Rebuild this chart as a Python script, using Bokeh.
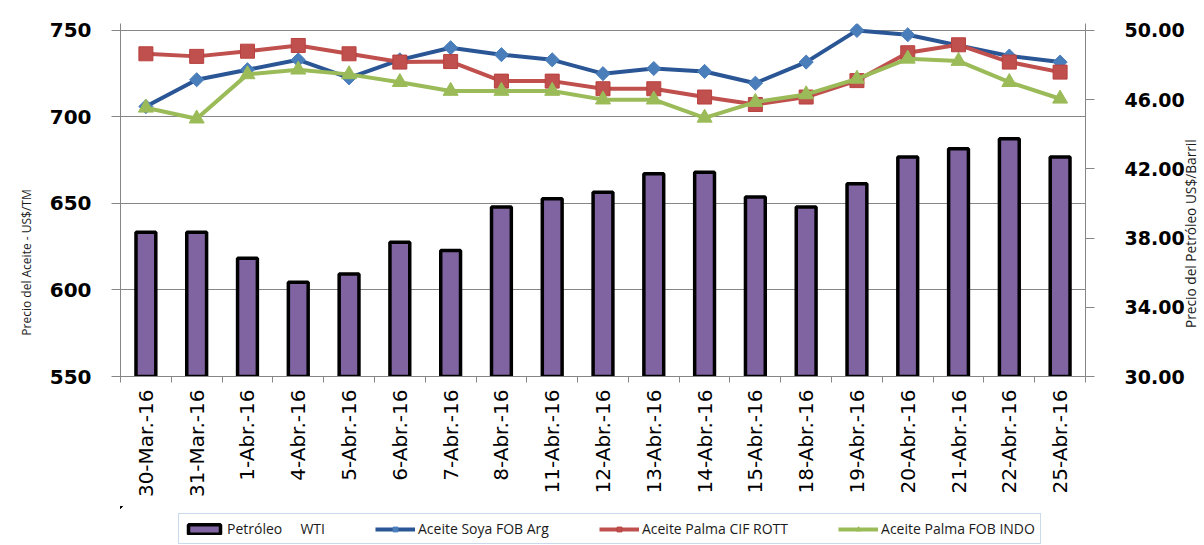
from math import pi
from bokeh.plotting import figure
from bokeh.layouts import column
from bokeh.models import (Range1d, LinearAxis, FixedTicker, Legend, LegendItem,
                          NumeralTickFormatter)
from bokeh.embed import file_html
from bokeh.resources import INLINE

# ---- data ----
dates = ["30-Mar.-16", "31-Mar.-16", "1-Abr.-16", "4-Abr.-16", "5-Abr.-16",
         "6-Abr.-16", "7-Abr.-16", "8-Abr.-16", "11-Abr.-16", "12-Abr.-16",
         "13-Abr.-16", "14-Abr.-16", "15-Abr.-16", "18-Abr.-16", "19-Abr.-16",
         "20-Abr.-16", "21-Abr.-16", "22-Abr.-16", "25-Abr.-16"]
wti = [38.34, 38.34, 36.84, 35.45, 35.93, 37.76, 37.28, 39.79, 40.27, 40.65,
       41.72, 41.81, 40.37, 39.79, 41.14, 42.68, 43.16, 43.74, 42.68]
soya = [706, 721.5, 727.3, 733, 722.6, 733, 740, 736, 733, 725,
        728, 726.3, 719.5, 731.7, 750, 747.5, 741.3, 735.2, 731.7]
palma_cif = [736.5, 735, 738, 741.3, 736.5, 731.7, 732, 720.7, 720.7, 716.3,
             716.3, 711.5, 707.2, 711.5, 721, 737.1, 741.7, 731.7, 725.9]
palma_indo = [705.3, 699, 724.6, 727.3, 724.6, 720.1, 715, 715, 715, 710,
              710, 699.5, 708.6, 713, 722, 733.6, 732.3, 720.1, 710.5]
left_ticks = [550, 600, 650, 700, 750]
right_ticks = [30, 34, 38, 42, 46, 50]
left_title = "Precio del Aceite  - US$/TM"
right_title = "Precio del Petróleo US$/Barril"
legend_labels = ["Petróleo     WTI", "Aceite Soya FOB Arg",
                 "Aceite Palma CIF ROTT", "Aceite Palma FOB INDO"]

xs = list(range(len(dates)))

# styles
BAR = dict(fill_color="#8064A2", line_color="black", line_width=3.5)
SOYA_L = dict(line_color="#2B5696", line_width=4)
SOYA_M = dict(marker="square", angle=pi / 4, size=10,
              fill_color="#4A7EBB", line_color="#4A7EBB")
CIF_L = dict(line_color="#C0504D", line_width=4)
CIF_M = dict(marker="square", size=14, fill_color="#C0504D", line_color="#B8403E")
INDO_L = dict(line_color="#9BBB59", line_width=4)
INDO_M = dict(marker="triangle", size=15, fill_color="#9BBB59", line_color="#9BBB59")

p = figure(frame_width=965, height=506,
           x_range=Range1d(-0.5, len(dates) - 0.5),
           y_range=Range1d(550, 754),
           output_backend="svg", toolbar_location=None,
           min_border_left=120, min_border_right=119,
           min_border_top=23, min_border_bottom=130)
p.extra_y_ranges = {"oil": Range1d(30, 50.4)}
p.outline_line_color = None
p.background_fill_color = "white"
p.border_fill_color = "white"

axis_col = "#868686"

# bars (right axis)
p.vbar(x=xs, top=wti, bottom=30, width=0.39, y_range_name="oil", **BAR)

# lines (left axis)
p.line(xs, soya, **SOYA_L)
p.scatter(xs, soya, **SOYA_M)
p.line(xs, palma_cif, **CIF_L)
p.scatter(xs, palma_cif, **CIF_M)
p.line(xs, palma_indo, **INDO_L)
p.scatter(xs, palma_indo, **INDO_M)

# x axis
xa = p.xaxis[0]
xa.ticker = FixedTicker(ticks=xs, minor_ticks=[i - 0.5 for i in range(len(xs) + 1)])
xa.major_label_overrides = {i: d for i, d in enumerate(dates)}
xa.major_label_orientation = pi / 2
xa.major_tick_out = 0
xa.major_tick_in = 0
xa.minor_tick_out = 6
xa.minor_tick_in = 0
xa.major_label_standoff = 7
xa.major_label_text_font = "DejaVu Sans"
xa.major_label_text_font_size = "20px"
xa.major_label_text_color = "black"
xa.axis_line_color = axis_col
xa.minor_tick_line_color = axis_col

# left axis
ya = p.yaxis[0]
ya.ticker = FixedTicker(ticks=left_ticks, minor_ticks=[])
ya.major_tick_out = 9
ya.major_tick_in = 4
ya.minor_tick_out = 0
ya.minor_tick_in = 0
ya.major_label_standoff = 20
ya.major_label_text_font = "DejaVu Sans"
ya.major_label_text_font_style = "bold"
ya.major_label_text_font_size = "20px"
ya.major_label_text_color = "black"
ya.axis_line_color = axis_col
ya.major_tick_line_color = axis_col

# right axis
ra = LinearAxis(y_range_name="oil",
                ticker=FixedTicker(ticks=right_ticks, minor_ticks=[]),
                formatter=NumeralTickFormatter(format="0.00"))
ra.major_tick_out = 9
ra.major_tick_in = 0
ra.minor_tick_out = 0
ra.minor_tick_in = 0
ra.major_label_standoff = 30
ra.major_label_text_font = "DejaVu Sans"
ra.major_label_text_font_style = "bold"
ra.major_label_text_font_size = "19px"
ra.major_label_text_color = "black"
ra.axis_line_color = axis_col
ra.major_tick_line_color = axis_col
p.add_layout(ra, "right")


# axis titles, drawn as the single label of an outer axis
def title_axis(text, pos, size, standoff):
    ax = LinearAxis(ticker=FixedTicker(ticks=[pos], minor_ticks=[]),
                    major_label_overrides={pos: text})
    ax.major_label_orientation = pi / 2
    ax.axis_line_color = None
    ax.major_tick_line_color = None
    ax.minor_tick_line_color = None
    ax.major_tick_out = 0
    ax.major_tick_in = 0
    ax.minor_tick_out = 0
    ax.minor_tick_in = 0
    ax.major_label_standoff = standoff
    ax.major_label_text_font = "Open Sans"
    ax.major_label_text_font_size = size
    ax.major_label_text_color = "#1a1a1a"
    return ax


p.add_layout(title_axis(left_title, 660, "12px", 20), "left")
p.add_layout(title_axis(right_title, 578, "13.7px", 3), "right")

# grid
p.xgrid.visible = False
p.ygrid.ticker = FixedTicker(ticks=left_ticks[1:])
p.ygrid.grid_line_color = axis_col
p.ygrid.grid_line_width = 1

# ---- legend strip: a small plot whose ranges keep the series out of view,
# so only the legend (with the same glyph styles) shows ----
lg = figure(width=1204, height=39,
            x_range=Range1d(1000, 1001), y_range=Range1d(-1001, -1000),
            output_backend="svg", toolbar_location=None,
            x_axis_location=None, y_axis_location=None,
            min_border=0)
lg.outline_line_color = None
lg.grid.visible = False
lg.background_fill_alpha = 0
lb = lg.vbar(x=xs, top=wti, bottom=30, width=0.39, **BAR)
a1 = lg.line(xs, soya, **SOYA_L)
b1 = lg.scatter(xs, soya, **SOYA_M)
a2 = lg.line(xs, palma_cif, **CIF_L)
b2 = lg.scatter(xs, palma_cif, **CIF_M)
a3 = lg.line(xs, palma_indo, **INDO_L)
b3 = lg.scatter(xs, palma_indo, **INDO_M)

legend = Legend(items=[
    LegendItem(label=legend_labels[0], renderers=[lb]),
    LegendItem(label=legend_labels[1], renderers=[a1, b1]),
    LegendItem(label=legend_labels[2], renderers=[a2, b2]),
    LegendItem(label=legend_labels[3], renderers=[a3, b3]),
], orientation="horizontal", location=(58, 1))
legend.label_text_font = "Open Sans"
legend.label_text_font_size = "14px"
legend.label_text_color = "#1a1a1a"
legend.glyph_width = 40
legend.glyph_height = 12
legend.label_height = 19
legend.label_standoff = 3
legend.spacing = 50
legend.padding = 5
legend.margin = 0
legend.border_line_color = "#95B3D7"
legend.border_line_width = 1.5
legend.background_fill_color = "white"
legend.background_fill_alpha = 1
lg.add_layout(legend)

layout = column(p, lg, spacing=0)
open("out.html", "w").write(file_html(layout, INLINE))
